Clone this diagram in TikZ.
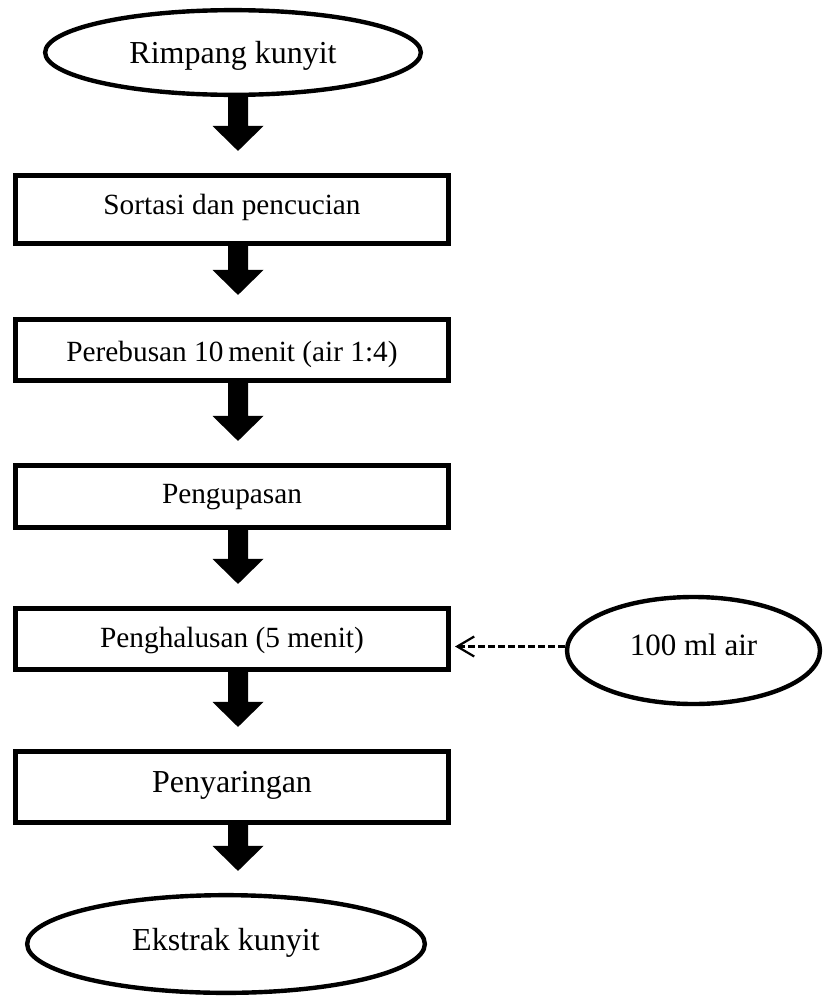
\documentclass[tikz,border=0pt]{standalone}
\usepackage{fontspec}
\setmainfont{Liberation Serif}
\usetikzlibrary{shapes.geometric,arrows.meta,calc}
\newcommand\flowarrow[2]{\fill[flow] let \p1=(#1.south), \p2=(#2.north) in
  (228pt,\y1) -- (248pt,\y1) -- (248pt,\y2+47pt) -- (263.5pt,\y2+47pt) -- (238pt,\y2+22pt) -- (212.5pt,\y2+47pt) -- (228pt,\y2+47pt) -- cycle;}
\begin{document}
\begin{tikzpicture}[x=1pt,y=-1pt,
  procbox/.style={draw, line width=4.6pt, minimum width=433.5pt, inner sep=0pt, font=\fontsize{29.3}{35}\selectfont},
  term/.style={draw, ellipse, line width=4.4pt, inner sep=0pt, font=\fontsize{32}{38}\selectfont},
  toff/.style={text depth=0pt, text height=#1},
  flow/.style={fill=black},
  feed/.style={line width=2.4pt, dash pattern=on 7pt off 3pt, -{Straight Barb[length=17pt,width=20pt,line width=2.2pt]}}]
\useasboundingbox (0,0) rectangle (823,996);
\node[term, minimum width=375.7pt, minimum height=84.7pt, toff=21pt] (rk) at (233,52.5) {Rimpang kunyit};
\node[procbox, minimum height=68.5pt, toff=9pt] (s1) at (232,209.5) {Sortasi dan pencucian};
\node[procbox, minimum height=61.5pt, toff=22pt] (s2) at (232,350) {Perebusan 10\,menit (air 1:4)};
\node[procbox, minimum height=62.5pt, toff=13pt] (s3) at (232,496.5) {Pengupasan};
\node[procbox, minimum height=61.5pt, toff=16pt] (s4) at (232,639) {Penghalusan (5 menit)};
\node[procbox, minimum height=71.5pt, toff=10pt, font=\fontsize{32}{38}\selectfont] (s5) at (232,787) {Penyaringan};
\node[term, minimum width=397.7pt, minimum height=97.7pt, toff=12pt] (ek) at (226,944) {Ekstrak kunyit};
\node[term, minimum width=253pt, minimum height=107pt, toff=9pt, font=\fontsize{31}{37}\selectfont] (air) at (693.5,650.5) {100 ml air};
\flowarrow{rk}{s1}
\flowarrow{s1}{s2}
\flowarrow{s2}{s3}
\flowarrow{s3}{s4}
\flowarrow{s4}{s5}
\flowarrow{s5}{ek}
\draw[feed, shorten >=4pt] ([yshift=4pt]air.west) -- ([yshift=4pt]air.west -| s4.east);
\end{tikzpicture}
\end{document}
